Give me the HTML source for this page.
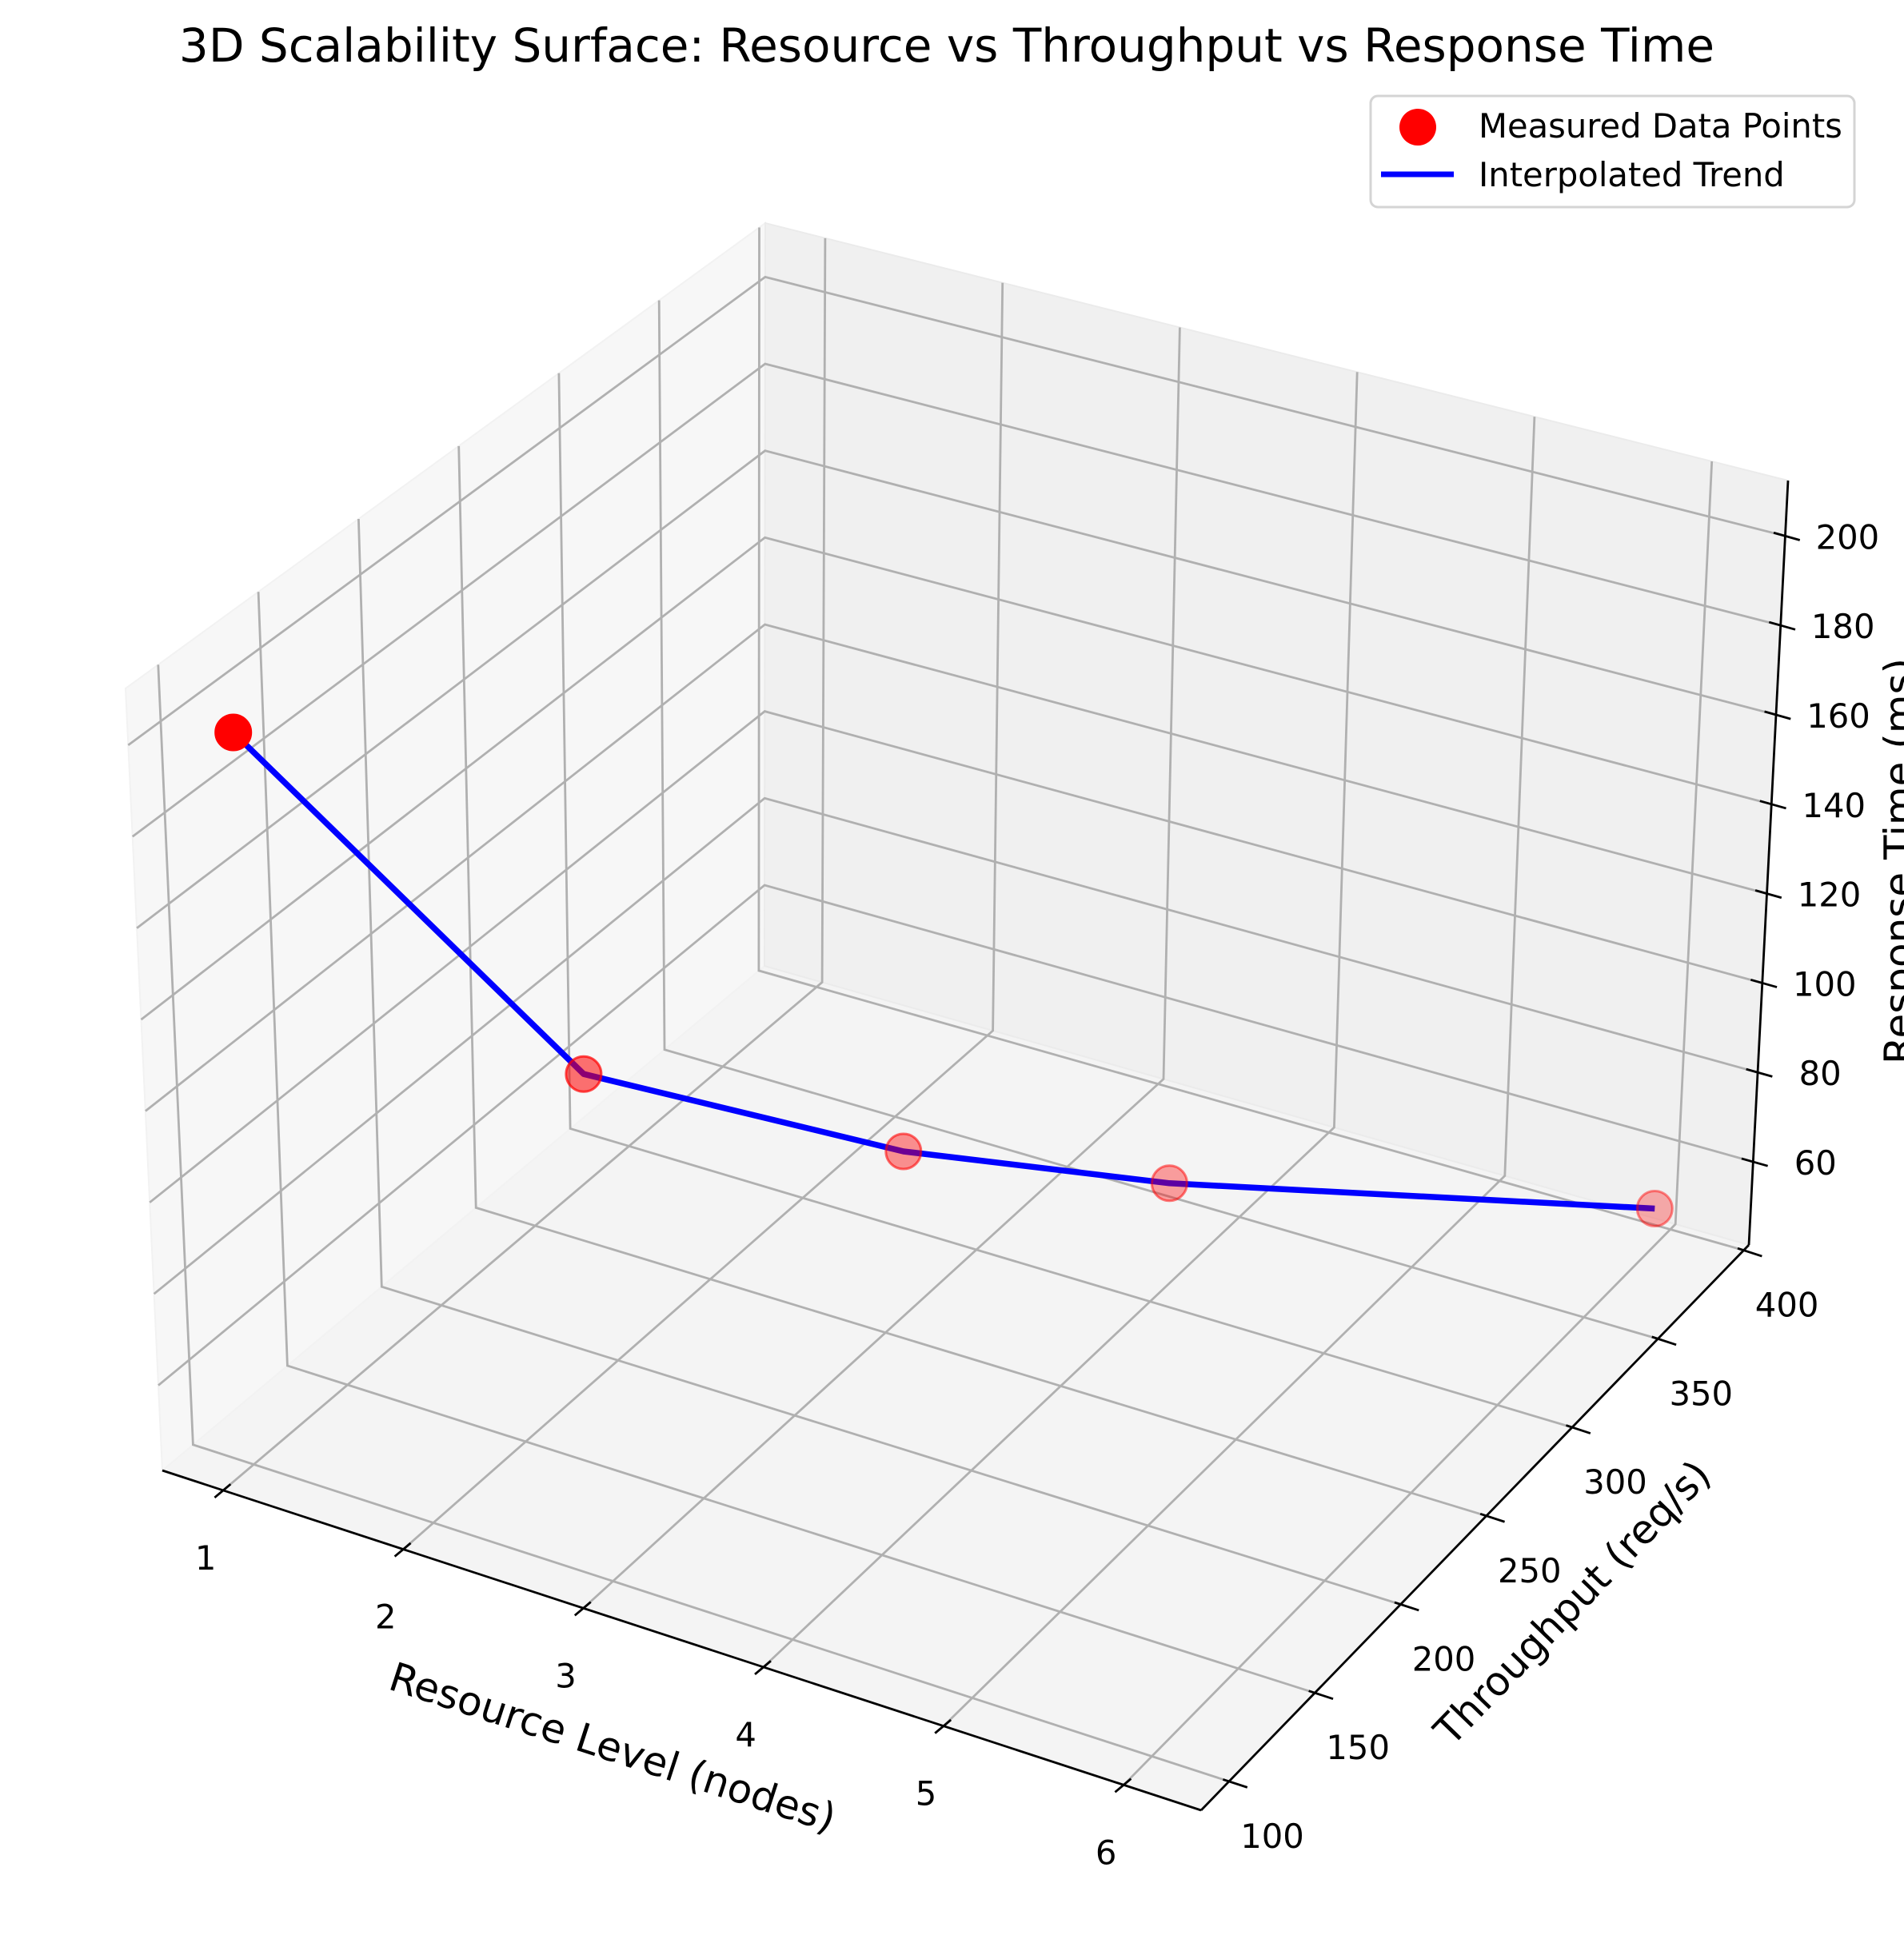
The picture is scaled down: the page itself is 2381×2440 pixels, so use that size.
<!DOCTYPE html>
<html>
<head>
<meta charset="utf-8">
<style>
  html,body{margin:0;padding:0;background:#fff;}
  svg{display:block;}
  text{font-family:"DejaVu Sans","Liberation Sans",sans-serif;fill:#000;}
</style>
</head>
<body>
<svg id="chart" width="2381" height="2440" viewBox="0 0 2381 2440" xmlns="http://www.w3.org/2000/svg">
  <rect x="0" y="0" width="2381" height="2440" fill="#ffffff"/>
  <text x="1184" y="77" font-size="58" text-anchor="middle">3D Scalability Surface: Resource vs Throughput vs Response Time</text>
  <g id="panes"></g>
  <g id="grid"></g>
  <g id="axes"></g>
  <g id="series"></g>
  <text x="765" y="2189" font-size="50" text-anchor="middle" dominant-baseline="middle" transform="rotate(18 765 2189)">Resource Level (nodes)</text>
  <text x="1969" y="2007" font-size="50" text-anchor="middle" dominant-baseline="middle" transform="rotate(-46 1969 2007)">Throughput (req/s)</text>
  <text x="2392" y="1077" font-size="50" text-anchor="middle" transform="rotate(-90 2392 1077)">Response Time (ms)</text>
  <g>
    <rect x="1714" y="120" width="605" height="139" rx="9" ry="9" fill="#ffffff" fill-opacity="0.8" stroke="#d4d4d4" stroke-width="3"/>
    <circle cx="1773" cy="159" r="23" fill="#ff0000"/>
    <text x="1849" y="172" font-size="41.7">Measured Data Points</text>
    <line x1="1727" y1="218" x2="1818" y2="218" stroke="#0000ff" stroke-width="7"/>
    <text x="1849" y="233" font-size="41.7">Interpolated Trend</text>
  </g>
</svg>
<script>
const resource = [1, 2, 3, 4, 6];
const throughput = [105, 185, 260, 310, 390];
const respTime = [200, 110, 78, 64, 50];
const xTicks = [1, 2, 3, 4, 5, 6];
const yTicks = [100, 150, 200, 250, 300, 350, 400];
const zTicks = [60, 80, 100, 120, 140, 160, 180, 200];
const xLim = [0.662, 6.43];
const yLim = [83.7, 403];
const zLim = [41.4, 212.4];

const NS = 'http://www.w3.org/2000/svg';
const K = {
  A: [203, 1839], B: [1502, 2264], C: [2187, 1557], D: [956, 1208],
  At: [157, 861], Bt: [1499, 1259], Ct: [2236, 601], Dt: [957, 279]
};
function lerp(p, q, t) { return [p[0] + (q[0] - p[0]) * t, p[1] + (q[1] - p[1]) * t]; }
function proj(x, y, z) {
  const u = (x - xLim[0]) / (xLim[1] - xLim[0]);
  const v = (y - yLim[0]) / (yLim[1] - yLim[0]);
  const w = (z - zLim[0]) / (zLim[1] - zLim[0]);
  const f = lerp(lerp(K.A, K.B, u), lerp(K.D, K.C, u), v);
  const t = lerp(lerp(K.At, K.Bt, u), lerp(K.Dt, K.Ct, u), v);
  return lerp(f, t, w);
}
function mk(tag, attrs, parent) {
  const el = document.createElementNS(NS, tag);
  for (const k in attrs) el.setAttribute(k, attrs[k]);
  parent.appendChild(el);
  return el;
}
function pts(arr) { return arr.map(p => p[0].toFixed(1) + ',' + p[1].toFixed(1)).join(' '); }

const panes = document.getElementById('panes');
const X0 = xLim[0], X1 = xLim[1], Y0 = yLim[0], Y1 = yLim[1], Z0 = zLim[0], Z1 = zLim[1];
let el;
el = mk('polygon', {points: pts([proj(X0,Y0,Z0), proj(X1,Y0,Z0), proj(X1,Y1,Z0), proj(X0,Y1,Z0)]), fill: '#f4f4f4', stroke: '#f0f0f0', 'stroke-width': 2}, panes);


el = mk('polygon', {points: pts([proj(X0,Y0,Z0), proj(X0,Y1,Z0), proj(X0,Y1,Z1), proj(X0,Y0,Z1)]), fill: '#f7f7f7', stroke: '#f2f2f2', 'stroke-width': 2}, panes);


el = mk('polygon', {points: pts([proj(X0,Y1,Z0), proj(X1,Y1,Z0), proj(X1,Y1,Z1), proj(X0,Y1,Z1)]), fill: '#f0f0f0', stroke: '#ebebeb', 'stroke-width': 2}, panes);



const grid = document.getElementById('grid');
const gs = {stroke: '#b0b0b0', 'stroke-width': 2.8, fill: 'none'};
function gline(list, name) {
  const e = mk('polyline', Object.assign({points: pts(list)}, gs), grid);
  
  
}
xTicks.forEach(x => gline([proj(x,Y0,Z0), proj(x,Y1,Z0), proj(x,Y1,Z1)], 'x-gridline'));
yTicks.forEach(y => gline([proj(X1,y,Z0), proj(X0,y,Z0), proj(X0,y,Z1)], 'y-gridline'));
zTicks.forEach(z => gline([proj(X0,Y0,z), proj(X0,Y1,z), proj(X1,Y1,z)], 'z-gridline'));

const axes = document.getElementById('axes');
function aline(a, b, name) {
  const e = mk('line', {x1: a[0], y1: a[1], x2: b[0], y2: b[1], stroke: '#000', 'stroke-width': 2.8}, axes);
  
  
}
aline(proj(X0,Y0,Z0), proj(X1,Y0,Z0), 'x-axis-line');
aline(proj(X1,Y0,Z0), proj(X1,Y1,Z0), 'y-axis-line');
aline(proj(X1,Y1,Z0), proj(X1,Y1,Z1), 'z-axis-line');

function unit(a, b) { const dx = b[0]-a[0], dy = b[1]-a[1]; const l = Math.hypot(dx, dy); return [dx/l, dy/l]; }
function tlabel(p, txt, name) {
  const t = mk('text', {x: p[0].toFixed(1), y: p[1].toFixed(1), 'font-size': 41.7, 'text-anchor': 'middle', 'dominant-baseline': 'middle'}, axes);
  t.textContent = txt;
  
  
}
const ydir = unit(proj(X0,Y0,Z0), proj(X0,Y1,Z0));
xTicks.forEach(x => {
  const p = proj(x, Y0, Z0);
  aline([p[0] - ydir[0]*14, p[1] - ydir[1]*14], [p[0] + ydir[0]*12, p[1] + ydir[1]*12], 'x-tick');
  tlabel([p[0] - 22, p[1] + 88], String(x), 'x-tick-label');
});
const xdir = unit(proj(X0,Y0,Z0), proj(X1,Y0,Z0));
yTicks.forEach(y => {
  const p = proj(X1, y, Z0);
  aline([p[0] - xdir[0]*8, p[1] - xdir[1]*8], [p[0] + xdir[0]*24, p[1] + xdir[1]*24], 'y-tick');
  tlabel([p[0] + 54, p[1] + 72], String(y), 'y-tick-label');
});
const xdirB = unit(proj(X0,Y1,Z0), proj(X1,Y1,Z0));
zTicks.forEach(z => {
  const p = proj(X1, Y1, z);
  aline([p[0] - xdirB[0]*15, p[1] - xdirB[1]*15], [p[0] + xdirB[0]*19, p[1] + xdirB[1]*19], 'z-tick');
  tlabel([p[0] + 78, p[1] + 5], String(z), 'z-tick-label');
});

const series = document.getElementById('series');
const linePts = resource.map((x, i) => proj(x, throughput[i], respTime[i]));
const trend = mk('polyline', {points: pts(linePts), fill: 'none', stroke: '#0000ff', 'stroke-width': 7.5, 'stroke-linejoin': 'round'}, series);


const shade = [1, 0.55, 0.42, 0.36, 0.3];
resource.forEach((x, i) => {
  const p = proj(x, throughput[i], respTime[i]);
  const a = shade[i] !== undefined ? shade[i] : 0.35;
  const c = mk('circle', {cx: p[0].toFixed(1), cy: p[1].toFixed(1), r: 22, fill: '#ff0000', 'fill-opacity': a, stroke: '#ff0000', 'stroke-opacity': Math.min(1, a + 0.15), 'stroke-width': 3}, series);
  
  
});
</script>
</body>
</html>
